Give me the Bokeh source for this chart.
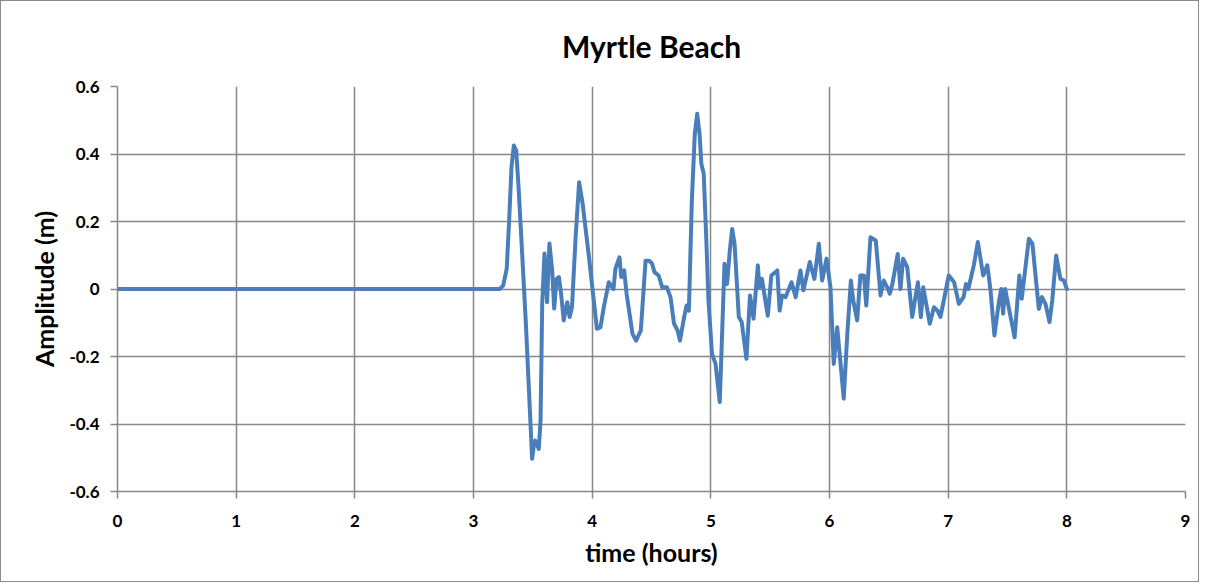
from bokeh.plotting import figure
from bokeh.models import FixedTicker
from bokeh.embed import file_html
from bokeh.resources import INLINE

time_h = [0, 3.0, 3.22, 3.25, 3.28, 3.30, 3.32, 3.34, 3.36, 3.38, 3.41, 3.44, 3.466, 3.494, 3.51, 3.52, 3.55, 3.565,
          3.579, 3.598, 3.62, 3.64, 3.663, 3.68, 3.70, 3.72, 3.74, 3.76, 3.79, 3.81, 3.83, 3.86, 3.89, 3.92, 3.97,
          4.04, 4.07, 4.10, 4.14, 4.18, 4.196, 4.23, 4.245, 4.27, 4.29, 4.34, 4.37, 4.41, 4.45, 4.48, 4.505, 4.525,
          4.56, 4.59, 4.63, 4.66, 4.69, 4.72, 4.74, 4.77, 4.795, 4.815, 4.84, 4.865, 4.885, 4.905, 4.92, 4.94, 4.96,
          4.98, 5.01, 5.04, 5.075, 5.095, 5.115, 5.137, 5.16, 5.18, 5.2, 5.236, 5.26, 5.30, 5.33, 5.36, 5.396, 5.41,
          5.43, 5.48, 5.51, 5.56, 5.58, 5.60, 5.63, 5.68, 5.715, 5.755, 5.78, 5.834, 5.873, 5.91, 5.938, 5.975,
          6.008, 6.036, 6.065, 6.12, 6.15, 6.18, 6.2, 6.233, 6.26, 6.29, 6.31, 6.345, 6.39, 6.43, 6.457, 6.486,
          6.508, 6.53, 6.575, 6.598, 6.62, 6.655, 6.697, 6.745, 6.77, 6.79, 6.845, 6.88, 6.91, 6.935, 7.005, 7.05,
          7.09, 7.13, 7.15, 7.17, 7.216, 7.25, 7.295, 7.33, 7.357, 7.39, 7.427, 7.447, 7.463, 7.48, 7.56, 7.6,
          7.62, 7.68, 7.71, 7.764, 7.79, 7.82, 7.854, 7.877, 7.91, 7.946, 7.975, 8.0]

amplitude_m = [0, 0, 0, 0.01, 0.06, 0.2, 0.36, 0.425, 0.41, 0.3, 0.105, -0.093, -0.29, -0.503, -0.46, -0.449, -0.474, -0.39,
               -0.043, 0.105, -0.039, 0.135, 0.055, -0.058, 0.03, 0.035, -0.02, -0.093, -0.039, -0.083, -0.054, 0.15, 0.316, 0.252, 0.104,
               -0.118, -0.113, -0.05, 0.02, 0.0, 0.06, 0.094, 0.035, 0.055, -0.014, -0.133, -0.153, -0.123, 0.084, 0.084, 0.075, 0.05,
               0.04, 0.005, 0.005, -0.024, -0.103, -0.123, -0.153, -0.093, -0.049, -0.064, 0.262, 0.46, 0.519, 0.46, 0.371, 0.341, 0.164,
               -0.034, -0.192, -0.222, -0.335, -0.133, 0.075, 0.015, 0.114, 0.178, 0.134, -0.083, -0.098, -0.207, -0.019, -0.088, 0.07, 0.005,
               0.03, -0.079, 0.04, 0.055, -0.064, -0.019, -0.024, 0.02, -0.024, 0.055, -0.004, 0.08, 0.03, 0.134, 0.025, 0.09,
               0.005, -0.222, -0.113, -0.325, -0.133, 0.025, -0.034, -0.093, 0.04, 0.04, -0.049, 0.153, 0.144, -0.019, 0.025, 0.005,
               -0.014, 0.015, 0.104, 0.0, 0.09, 0.065, -0.083, 0.02, -0.083, 0.005, -0.103, -0.054, -0.064, -0.083, 0.04, 0.02,
               -0.044, -0.024, 0.015, 0.0, 0.07, 0.139, 0.04, 0.07, -0.004, -0.138, -0.039, 0.0, -0.073, 0.0, -0.143, 0.04,
               -0.029, 0.149, 0.134, -0.059, -0.024, -0.044, -0.098, -0.034, 0.099, 0.03, 0.025, 0.0]

x_ticks = [0, 1, 2, 3, 4, 5, 6, 7, 8, 9]
y_ticks = [-0.6, -0.4, -0.2, 0, 0.2, 0.4, 0.6]
y_tick_labels = ["-0.6", "-0.4", "-0.2", "0", "0.2", "0.4", "0.6"]

FONT = "Lato"
GRID = "#878787"

p = figure(width=1199, height=582, x_range=(0, 9), y_range=(-0.6, 0.6),
           output_backend="svg", toolbar_location=None,
           min_border_left=116, min_border_right=15, min_border_top=85, min_border_bottom=92,
           title="Myrtle Beach")
p.styles = {"border": "1px solid #8a8a8a"}
p.outline_line_color = None
p.background_fill_color = "white"
p.border_fill_color = "white"

p.title.align = "center"
p.title.text_font = FONT
p.title.text_font_size = "30px"
p.title.text_font_style = "bold"
p.title.text_color = "black"
p.title.standoff = 46

p.line(time_h, amplitude_m, line_color="#4A7EBB", line_width=4, line_join="round", line_cap="round")

p.xaxis.ticker = FixedTicker(ticks=x_ticks)
p.yaxis.ticker = FixedTicker(ticks=y_ticks)
p.xaxis.major_label_overrides = {t: str(t) for t in x_ticks}
p.yaxis.major_label_overrides = {t: l for t, l in zip(y_ticks, y_tick_labels)}

for ax in (p.xaxis, p.yaxis):
    ax.axis_line_color = GRID
    ax.axis_line_width = 1.5
    ax.major_tick_line_color = GRID
    ax.major_tick_line_width = 1.5
    ax.major_tick_out = 7
    ax.major_tick_in = 0
    ax.minor_tick_line_color = None
    ax.major_label_text_font = FONT
    ax.major_label_text_font_size = "17px"
    ax.major_label_text_font_style = "bold"
    ax.major_label_text_color = "black"
    ax.axis_label_text_font = FONT
    ax.axis_label_text_font_size = "25px"
    ax.axis_label_text_font_style = "bold"
    ax.axis_label_text_color = "black"

p.xaxis.axis_label = "time (hours)"
p.yaxis.axis_label = "Amplitude (m)"
p.xaxis.major_label_standoff = 16
p.yaxis.major_label_standoff = 11
p.xaxis.axis_label_standoff = 7
p.yaxis.axis_label_standoff = 7

p.xgrid.grid_line_color = GRID
p.ygrid.grid_line_color = GRID
p.xgrid.grid_line_width = 1.5
p.ygrid.grid_line_width = 1.5

open("out.html", "w").write(file_html(p, INLINE))
